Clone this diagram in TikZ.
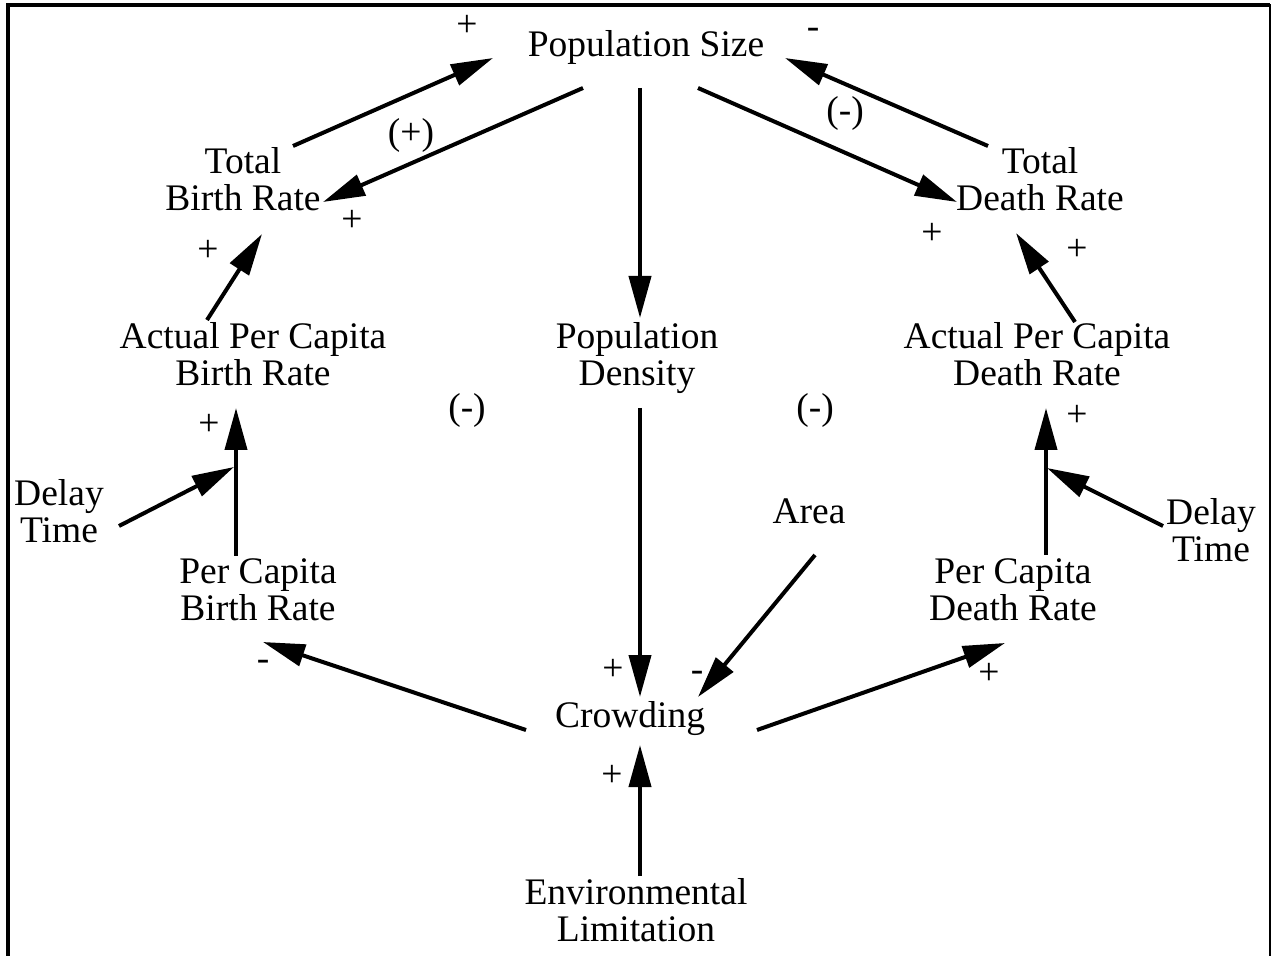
\documentclass[tikz,border=0pt]{standalone}
\usepackage{fontspec}
\setmainfont{Liberation Serif}
\usetikzlibrary{arrows.meta}
\begin{document}
\begin{tikzpicture}[x=0.5pt,y=-0.5pt,
  lbl/.style={font=\fontsize{18.75pt}{18.5pt}\selectfont, inner sep=0pt, anchor=base, align=center},
  sgn/.style={font=\fontsize{18.75pt}{18.5pt}\selectfont, inner sep=0pt, anchor=base},
  link/.style={line width=2pt, -{Triangle[length=21pt,width=11pt]}},
  frame/.style={line width=1.6pt}]
\useasboundingbox (0,0) rectangle (1274,956);
% frame
\draw[frame] (8,956) -- (8,5) -- (1270,5);
\draw[line width=1.2pt] (1270,4.2) -- (1270,956);
% variables (anchor base = baseline of the last line)
\node[lbl] (ps) at (646,57) {Population Size};
\node[lbl] (tbr) at (243,211) {Total\\Birth Rate};
\node[lbl] (tdr) at (1040,211) {Total\\Death Rate};
\node[lbl] (apbr) at (253,386) {Actual Per Capita\\Birth Rate};
\node[lbl] (pd) at (637,386) {Population\\Density};
\node[lbl] (apdr) at (1037,386) {Actual Per Capita\\Death Rate};
\node[lbl] (loopL) at (467,420) {(-)};
\node[lbl] (loopR) at (815,420) {(-)};
\node[lbl] (dtl) at (59,543) {Delay\\Time};
\node[lbl] (area) at (809,524) {Area};
\node[lbl] (dtr) at (1211,562) {Delay\\Time};
\node[lbl] (pcbr) at (258,620) {Per Capita\\Birth Rate};
\node[lbl] (pcdr) at (1013,620) {Per Capita\\Death Rate};
\node[lbl] (crowd) at (630,727) {Crowding};
\node[lbl] (env) at (636,941) {Environmental\\Limitation};
% signs
\node[sgn] (s1) at (467,37) {+};
\node[sgn] (s2) at (813,39) {-};
\node[sgn] (s3) at (411,145) {(+)};
\node[sgn] (s4) at (845,123) {(-)};
\node[sgn] (s5) at (352,232) {+};
\node[sgn] (s6) at (932,245) {+};
\node[sgn] (s7) at (208,262) {+};
\node[sgn] (s8) at (1077,261) {+};
\node[sgn] (s9) at (209,436) {+};
\node[sgn] (s10) at (1077,427) {+};
\node[sgn] (s11) at (263,670) {-};
\node[sgn] (s12) at (613,680) {+};
\node[sgn] (s13) at (697,681) {-};
\node[sgn] (s14) at (989,684) {+};
\node[sgn] (s15) at (612,786) {+};
% connector end points
\coordinate (tbr-o) at (293,146);  \coordinate (ps-i1) at (493,58);
\coordinate (ps-o1) at (583,88);   \coordinate (tbr-i) at (323,202);
\coordinate (tdr-o) at (988,146);  \coordinate (ps-i2) at (785,58);
\coordinate (ps-o2) at (698,88);   \coordinate (tdr-i) at (957,202);
\coordinate (ps-o3) at (640,88);   \coordinate (pd-i) at (640,318);
\coordinate (apbr-o) at (207,320); \coordinate (tbr-i2) at (262,234);
\coordinate (apdr-o) at (1075,322);\coordinate (tdr-i2) at (1016,233);
\coordinate (pcbr-o) at (236,556); \coordinate (apbr-i) at (236,408);
\coordinate (dtl-o) at (119,526);  \coordinate (dl-j) at (234,467);
\coordinate (pcdr-o) at (1046,555);\coordinate (apdr-i) at (1046,408);
\coordinate (dtr-o) at (1163,526); \coordinate (dr-j) at (1047,468);
\coordinate (pd-o) at (640,408);   \coordinate (crowd-i1) at (640,697);
\coordinate (area-o) at (815,555); \coordinate (crowd-i2) at (698,697);
\coordinate (crowd-o1) at (526,730);\coordinate (pcbr-i) at (263,642);
\coordinate (crowd-o2) at (757,730);\coordinate (pcdr-i) at (1005,643);
\coordinate (env-o) at (640,876);  \coordinate (crowd-i3) at (640,745);
% connectors
\draw[link] (tbr-o) -- (ps-i1);
\draw[link] (ps-o1) -- (tbr-i);
\draw[link] (tdr-o) -- (ps-i2);
\draw[link] (ps-o2) -- (tdr-i);
\draw[link] (ps-o3) -- (pd-i);
\draw[link] (apbr-o) -- (tbr-i2);
\draw[link] (apdr-o) -- (tdr-i2);
\draw[link] (pcbr-o) -- (apbr-i);
\draw[link] (dtl-o) -- (dl-j);
\draw[link] (pcdr-o) -- (apdr-i);
\draw[link] (dtr-o) -- (dr-j);
\draw[link] (pd-o) -- (crowd-i1);
\draw[link] (area-o) -- (crowd-i2);
\draw[link] (crowd-o1) -- (pcbr-i);
\draw[link] (crowd-o2) -- (pcdr-i);
\draw[link] (env-o) -- (crowd-i3);
\end{tikzpicture}
\end{document}
